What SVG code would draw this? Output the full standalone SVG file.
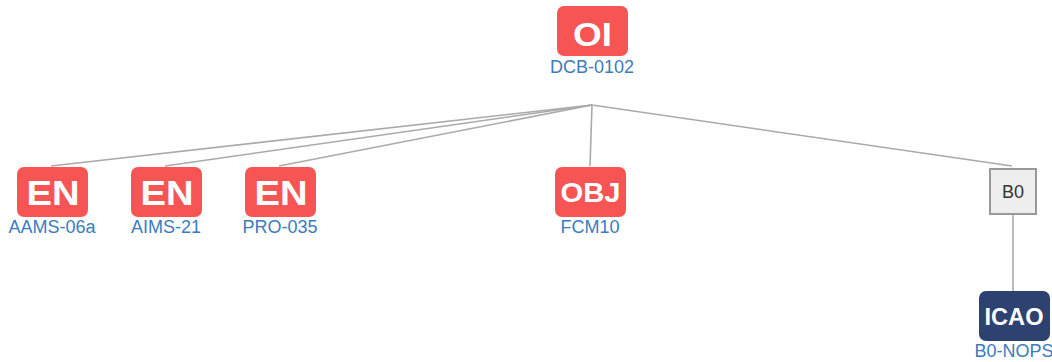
<svg xmlns="http://www.w3.org/2000/svg" width="1052" height="362" viewBox="0 0 1052 362">
<style>
.red{fill:#f75454}
.navy{fill:#2e4272}
.bt{font-family:"Liberation Sans",Arial,sans-serif;font-weight:bold;fill:#fff;text-anchor:middle}
.lb{font-family:"Liberation Sans",Arial,sans-serif;font-size:18px;fill:#3b7bbf;text-anchor:middle}
.ln{stroke:#aaa;stroke-width:1.6;fill:none}
</style>
<rect width="1052" height="362" fill="#fff"/>
<g id="connectors">
<line class="ln" x1="592" y1="105" x2="51" y2="166"/>
<line class="ln" x1="592" y1="105" x2="165" y2="166"/>
<line class="ln" x1="592" y1="105" x2="279" y2="166"/>
<line class="ln" x1="592" y1="105" x2="590" y2="166"/>
<line class="ln" x1="592" y1="105" x2="1012" y2="166"/>
<line class="ln" x1="1013" y1="214" x2="1013" y2="291"/>
</g>
<g id="OI">
<rect class="red" x="557" y="6" width="71" height="50" rx="7"/>
<text class="bt" x="592.5" y="46" font-size="34" textLength="39" lengthAdjust="spacingAndGlyphs">OI</text>
<text class="lb" x="592" y="73">DCB-0102</text>
</g>
<g id="AAMS-06a">
<rect class="red" x="17" y="167" width="71" height="50" rx="7"/>
<text class="bt" x="53" y="205" font-size="35" textLength="53" lengthAdjust="spacingAndGlyphs">EN</text>
<text class="lb" x="52" y="233">AAMS-06a</text>
</g>
<g id="AIMS-21">
<rect class="red" x="131" y="167" width="71" height="50" rx="7"/>
<text class="bt" x="167" y="205" font-size="35" textLength="53" lengthAdjust="spacingAndGlyphs">EN</text>
<text class="lb" x="166" y="233">AIMS-21</text>
</g>
<g id="PRO-035">
<rect class="red" x="245" y="167" width="71" height="50" rx="7"/>
<text class="bt" x="281" y="205" font-size="35" textLength="53" lengthAdjust="spacingAndGlyphs">EN</text>
<text class="lb" x="280" y="233">PRO-035</text>
</g>
<g id="FCM10">
<rect class="red" x="555" y="167" width="71" height="50" rx="7"/>
<text class="bt" x="590.5" y="202" font-size="28" textLength="60" lengthAdjust="spacingAndGlyphs">OBJ</text>
<text class="lb" x="590" y="233">FCM10</text>
</g>
<g id="B0">
<rect x="990" y="169" width="46" height="45" fill="#eee" stroke="#999" stroke-width="2"/>
<text x="1013" y="198" font-family="Liberation Sans,Arial,sans-serif" font-size="18" fill="#333" text-anchor="middle">B0</text>
</g>
<g id="B0-NOPS">
<rect class="navy" x="979" y="291" width="71" height="50" rx="7"/>
<text class="bt" x="1014" y="325" font-size="24" textLength="59" lengthAdjust="spacingAndGlyphs">ICAO</text>
<text class="lb" x="1014" y="357">B0-NOPS</text>
</g>
</svg>
